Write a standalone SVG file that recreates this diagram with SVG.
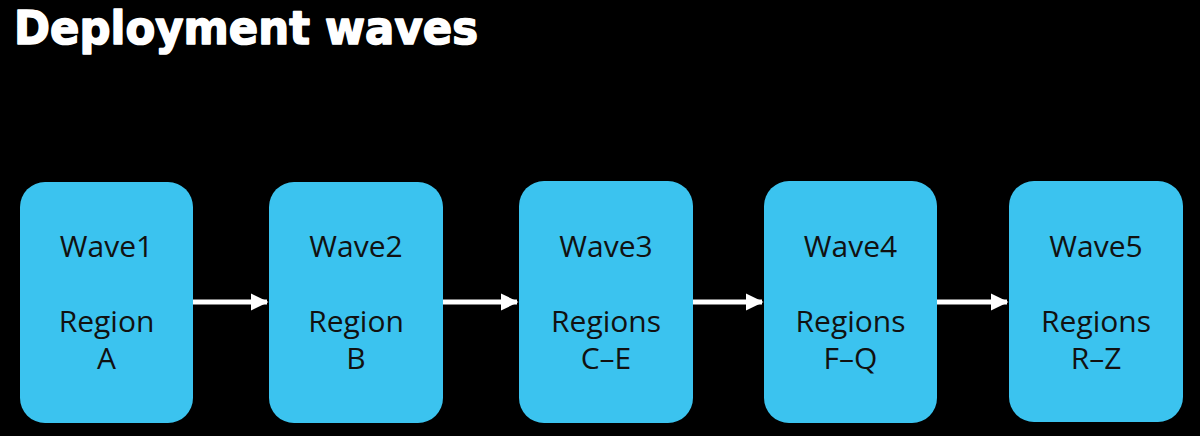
<svg xmlns="http://www.w3.org/2000/svg" width="1200" height="436" viewBox="0 0 1200 436">
<style>
.box{fill:#3BC3EF}
.lbl{font-family:"Open Sans","Noto Sans",sans-serif;font-size:30px;fill:#111;text-anchor:middle}
.title{font-family:"DejaVu Sans","Open Sans",sans-serif;font-size:46px;font-weight:bold;fill:#fff;stroke:#fff;stroke-width:1.6;stroke-linejoin:round}
.conn{stroke:#fff;stroke-width:5;fill:none}
</style>
<defs>
<marker id="ah" markerWidth="4" markerHeight="4" refX="3.2" refY="2" orient="auto" markerUnits="strokeWidth"><path d="M0,0.3 L3.5,2 L0,3.7 z" fill="#fff"/></marker>
</defs>
<rect width="1200" height="436" fill="#000"/>
<text class="title" x="14" y="43.5" textLength="464" lengthAdjust="spacingAndGlyphs">Deployment waves</text>
<g id="connectors">
<line class="conn" x1="193" y1="302" x2="267" y2="302" marker-end="url(#ah)"/>
<line class="conn" x1="443" y1="302" x2="517" y2="302" marker-end="url(#ah)"/>
<line class="conn" x1="693" y1="302" x2="762" y2="302" marker-end="url(#ah)"/>
<line class="conn" x1="937" y1="302" x2="1007" y2="302" marker-end="url(#ah)"/>
</g>
<g id="wave1"><rect class="box" x="20" y="182" width="173" height="241" rx="25"/>
<text class="lbl" x="106.5" y="257">Wave1</text><text class="lbl" x="106.5" y="332">Region</text><text class="lbl" x="106.5" y="369">A</text></g>
<g id="wave2"><rect class="box" x="269" y="182" width="174" height="241" rx="25"/>
<text class="lbl" x="356" y="257">Wave2</text><text class="lbl" x="356" y="332">Region</text><text class="lbl" x="356" y="369">B</text></g>
<g id="wave3"><rect class="box" x="519" y="181" width="174" height="242" rx="25"/>
<text class="lbl" x="606" y="257">Wave3</text><text class="lbl" x="606" y="332">Regions</text><text class="lbl" x="606" y="369">C–E</text></g>
<g id="wave4"><rect class="box" x="764" y="181" width="173" height="242" rx="25"/>
<text class="lbl" x="850.5" y="257">Wave4</text><text class="lbl" x="850.5" y="332">Regions</text><text class="lbl" x="850.5" y="369">F–Q</text></g>
<g id="wave5"><rect class="box" x="1009" y="181" width="174" height="241" rx="25"/>
<text class="lbl" x="1096" y="257">Wave5</text><text class="lbl" x="1096" y="332">Regions</text><text class="lbl" x="1096" y="369">R–Z</text></g>
</svg>
